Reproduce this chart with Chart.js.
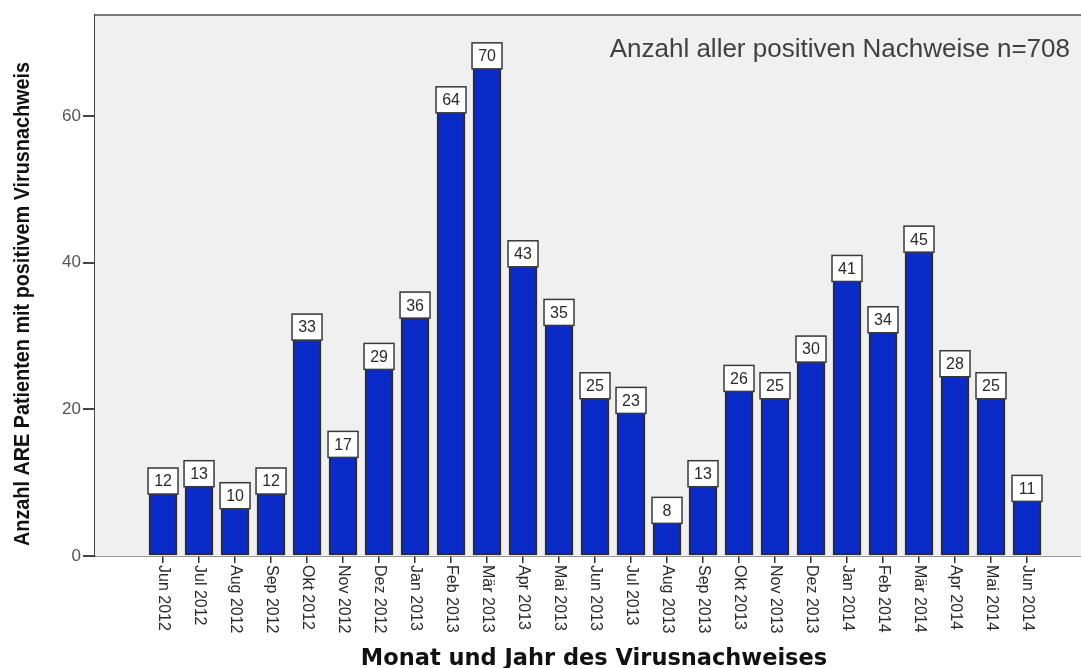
<!DOCTYPE html>
<html>
<head>
<meta charset="utf-8">
<script src="https://cdn.jsdelivr.net/npm/chart.js@4.4.1/dist/chart.umd.min.js"></script>
<style>
  html, body { margin: 0; padding: 0; background: #fff; }
  #wrap { width: 1081px; height: 668px; }
</style>
</head>
<body>
<div id="wrap"><canvas id="chart" width="1081" height="668"></canvas></div>
<script>
// Monthly positive virus detections, Jun 2012 - Jun 2014
const MONTHS = ['Jun 2012', 'Jul 2012', 'Aug 2012', 'Sep 2012', 'Okt 2012', 'Nov 2012', 'Dez 2012',
    'Jan 2013', 'Feb 2013', 'Mär 2013', 'Apr 2013', 'Mai 2013', 'Jun 2013', 'Jul 2013', 'Aug 2013',
    'Sep 2013', 'Okt 2013', 'Nov 2013', 'Dez 2013', 'Jan 2014', 'Feb 2014', 'Mär 2014', 'Apr 2014',
    'Mai 2014', 'Jun 2014'];
const COUNTS = [12, 13, 10, 12, 33, 17, 29, 36, 64, 70, 43, 35, 25, 23, 8, 13, 26, 25, 30, 41, 34, 45, 28, 25, 11];
const Y_TICKS = [0, 20, 40, 60];

const X_TITLE = 'Monat und Jahr des Virusnachweises';
const Y_TITLE = 'Anzahl ARE Patienten mit positivem Virusnachweis';
const NOTE = 'Anzahl aller positiven Nachweise n=708';

const BAR_BLUE = '#0b2bc9';

// draws the gray plot background, top border, labels and titles
const spssLook = {
    id: 'spssLook',
    beforeDatasetsDraw(chart) {
        const { ctx, chartArea: a } = chart;
        ctx.save();
        ctx.fillStyle = '#f0f0f0';
        ctx.fillRect(a.left, a.top, a.right - a.left, a.bottom - a.top);
        ctx.strokeStyle = '#7a7a7a';
        ctx.lineWidth = 2;
        ctx.beginPath();
        ctx.moveTo(a.left, a.top);
        ctx.lineTo(a.right, a.top);
        ctx.stroke();
        ctx.restore();
    },
    afterDatasetsDraw(chart) {
        const { ctx, chartArea: a } = chart;
        const meta = chart.getDatasetMeta(0);
        ctx.save();
        // value boxes
        meta.data.forEach((bar, i) => {
            const w = 30, h = 26;
            ctx.fillStyle = '#ffffff';
            ctx.fillRect(bar.x - w / 2, bar.y, w, h);
            ctx.strokeStyle = '#3a3a3a';
            ctx.lineWidth = 1.5;
            ctx.strokeRect(bar.x - w / 2, bar.y, w, h);
            ctx.fillStyle = '#2a2a2a';
            ctx.font = '16px "Liberation Sans", Arial, sans-serif';
            ctx.textAlign = 'center';
            ctx.textBaseline = 'middle';
            ctx.fillText(String(COUNTS[i]), bar.x, bar.y + h / 2 + 1);
        });

        // note in the top right
        ctx.fillStyle = '#404040';
        ctx.font = '26px "Liberation Sans", Arial, sans-serif';
        ctx.textAlign = 'right';
        ctx.textBaseline = 'alphabetic';
        ctx.fillText(NOTE, 1070, 57);

        // rotated month labels, reading top to bottom
        const xs = chart.scales.x;
        ctx.fillStyle = '#2a2a2a';
        ctx.font = '16px "Liberation Sans", Arial, sans-serif';
        ctx.textAlign = 'left';
        ctx.textBaseline = 'middle';
        MONTHS.forEach((m, i) => {
            ctx.save();
            ctx.translate(xs.getPixelForValue(i), a.bottom + 9);
            ctx.rotate(Math.PI / 2);
            ctx.fillText(m, 0, 0);
            ctx.restore();
        });

        // x title
        ctx.fillStyle = '#111';
        ctx.font = 'bold 22.5px "DejaVu Sans", Verdana, sans-serif';
        ctx.textAlign = 'center';
        ctx.textBaseline = 'alphabetic';
        ctx.fillText(X_TITLE, 594, 665);

        // y title, bold and condensed to fit
        ctx.save();
        ctx.font = 'bold 22px "Liberation Sans", Arial, sans-serif';
        const tw = ctx.measureText(Y_TITLE).width;
        ctx.translate(23, 304);
        ctx.rotate(-Math.PI / 2);
        ctx.scale(484 / tw, 1);
        ctx.textAlign = 'center';
        ctx.textBaseline = 'middle';
        ctx.fillStyle = '#111';
        ctx.fillText(Y_TITLE, 0, 0);
        ctx.restore();

        ctx.restore();
    }
};

new Chart(document.getElementById('chart'), {
    type: 'bar',
    data: {
        datasets: [{
            data: COUNTS.map((c, i) => ({ x: i, y: c })),
            backgroundColor: BAR_BLUE,
            borderColor: '#2b2b2b',
            borderWidth: 2,
            borderSkipped: false,
            barThickness: 28
        }]
    },
    options: {
        responsive: false,
        animation: false,
        layout: { padding: { top: 15, right: 0, left: 0, bottom: 0 } },
        plugins: {
            legend: { display: false },
            tooltip: { enabled: false }
        },
        scales: {
            x: {
                type: 'linear',
                offset: false,
                min: -1.89,
                max: 25.5,
                afterBuildTicks: s => { s.ticks = MONTHS.map((m, i) => ({ value: i })); },
                afterFit: s => { s.height = 112; },
                ticks: { display: false },
                grid: { offset: false, drawOnChartArea: false, drawTicks: true, tickLength: 7, color: '#333', lineWidth: 1.5 },
                border: { color: '#333', width: 1.5 }
            },
            y: {
                min: 0,
                max: 73.8,
                afterBuildTicks: s => { s.ticks = Y_TICKS.map(v => ({ value: v })); },
                afterFit: s => { s.width = 95; },
                ticks: {
                    color: '#555',
                    padding: 2,
                    font: { family: '"Liberation Sans", Arial, sans-serif', size: 17 }
                },
                grid: { drawOnChartArea: false, drawTicks: true, tickLength: 12, color: '#444', lineWidth: 2 },
                border: { color: '#444', width: 2 }
            }
        }
    },
    plugins: [spssLook]
});
</script>
</body>
</html>
